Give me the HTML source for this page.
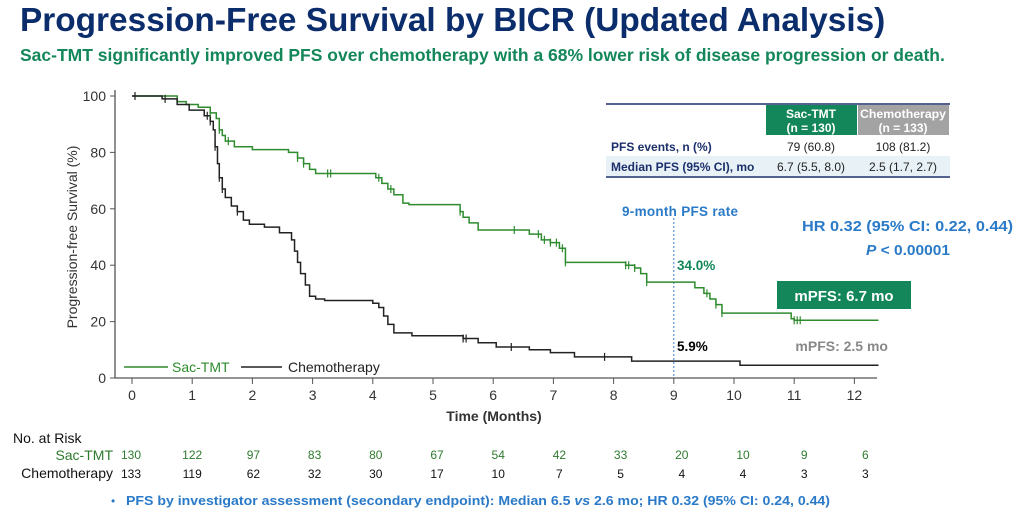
<!DOCTYPE html>
<html><head><meta charset="utf-8"><style>
body{margin:0;width:1031px;height:514px;background:#fff;overflow:hidden;font-family:"Liberation Sans",Arial,sans-serif;position:relative}
.t{position:absolute;white-space:nowrap}
</style></head><body>
<div class="t" style="left:20px;top:2px;font-size:33.4px;font-weight:bold;color:#0b2d6b">Progression-Free Survival by BICR (Updated Analysis)</div>
<div class="t" style="left:20px;top:45px;font-size:17.5px;font-weight:bold;color:#13875a">Sac-TMT significantly improved PFS over chemotherapy with a 68% lower risk of disease progression or death.</div>
<svg id="s" width="1031" height="514" style="position:absolute;left:0;top:0" font-family="Liberation Sans, Arial, sans-serif"></svg>
<script>
const X=t=>132+60.2*t, Y=v=>378-2.82*v;
const g=[[0,100],[0.75,98],[0.9,97],[1.1,96],[1.3,94],[1.4,92],[1.45,88],[1.5,86],[1.55,84],[1.7,82],[2.0,81],[2.6,80],[2.75,78],[2.85,76],[2.95,74],[3.05,72.5],[4.05,71],[4.15,69],[4.25,67],[4.35,65],[4.5,62],[4.6,61.5],[5.45,59],[5.5,57],[5.6,55],[5.75,52.5],[6.6,51],[6.8,49],[6.95,48],[7.1,46],[7.2,41],[8.2,40],[8.35,39],[8.45,37],[8.55,34],[9.35,32],[9.5,30],[9.6,28],[9.7,26],[9.8,23],[10.95,21],[11.0,20.5],[12.4,20.5]];
const c=[[0,100],[0.5,99],[0.75,97],[0.95,95],[1.2,93],[1.3,91],[1.35,88],[1.38,82],[1.42,76],[1.45,71],[1.5,67],[1.55,64],[1.65,61],[1.75,59],[1.85,56],[1.95,54.5],[2.2,53.5],[2.45,51.5],[2.65,49],[2.7,45],[2.75,41],[2.8,37],[2.88,33],[2.95,29],[3.05,28],[3.2,27.5],[4.0,26.5],[4.1,25],[4.18,22],[4.25,19],[4.35,16],[4.65,15],[5.5,14],[5.75,12.5],[6.05,11],[6.6,10],[6.95,9],[7.35,7.5],[8.3,6],[10.1,4.5],[12.4,4.5]];
function path(d){let s='M'+X(d[0][0])+' '+Y(d[0][1]);for(let i=1;i<d.length;i++){s+=' H'+X(d[i][0])+' V'+Y(d[i][1]);}return s;}
function cens(d,ts){let s='';for(const t of ts){let v=d[0][1];for(const p of d){if(p[0]<=t)v=p[1];}s+=`M${X(t)} ${Y(v)-4}v8`;}return s;}
let h='';
h+=`<line x1="115" y1="90" x2="115" y2="378" stroke="#555" stroke-width="1.3"/><line x1="115" y1="378" x2="877" y2="378" stroke="#555" stroke-width="1.3"/>`;
for(let v=0;v<=100;v+=20){h+=`<line x1="110" x2="115" y1="${Y(v)}" y2="${Y(v)}" stroke="#555"/><text x="106" y="${Y(v)+5}" font-size="14" text-anchor="end" fill="#333">${v}</text>`;}
for(let t=0;t<=12;t++){h+=`<line x1="${X(t)}" x2="${X(t)}" y1="378" y2="384" stroke="#555"/><text x="${X(t)}" y="400" font-size="14" text-anchor="middle" fill="#333">${t}</text>`;}
h+=`<text transform="translate(77,237) rotate(-90)" font-size="14" text-anchor="middle" fill="#333">Progression-free Survival (%)</text>`;
h+=`<text x="494" y="421" font-size="14" font-weight="bold" text-anchor="middle" fill="#333">Time (Months)</text>`;
h+=`<line x1="${X(9)}" x2="${X(9)}" y1="218" y2="378" stroke="#3a7fd0" stroke-dasharray="2,2"/>`;
h+=`<path d="${path(g)}" fill="none" stroke="#2e8b2e" stroke-width="1.5"/>`;
h+=`<path d="${path(c)}" fill="none" stroke="#222" stroke-width="1.5"/>`;
h+=`<path d="${cens(g,[1.3,1.45,1.6,2.75,2.85,3.25,3.3,4.1,4.3,5.45,6.35,6.75,6.85,6.95,7.05,7.15,7.2,8.2,8.25,8.35,8.55,9.55,9.7,9.8,11.0,11.05,11.1])}" stroke="#2e8b2e" stroke-width="1.2"/>`;
h+=`<path d="${cens(c,[0.05,0.55,1.25,1.3,1.38,1.45,1.5,1.75,5.5,5.55,6.3,7.85])}" stroke="#222" stroke-width="1.2"/>`;
h+=`<line x1="124" x2="168" y1="367" y2="367" stroke="#2e8b2e" stroke-width="1.5"/><text x="172" y="372" font-size="14" fill="#2e8b2e">Sac-TMT</text>`;
h+=`<line x1="241" x2="282" y1="367" y2="367" stroke="#222" stroke-width="1.5"/><text x="288" y="372" font-size="14" fill="#222">Chemotherapy</text>`;
h+=`<text x="680" y="216" font-size="13.5" font-weight="bold" text-anchor="middle" fill="#2a7ac8" textLength="116">9-month PFS rate</text>`;
h+=`<text x="677" y="270" font-size="13.5" font-weight="bold" fill="#13875a">34.0%</text>`;
h+=`<text x="677" y="351" font-size="13.5" font-weight="bold" fill="#000">5.9%</text>`;
h+=`<text x="802" y="231" font-size="15" font-weight="bold" fill="#2a7ac8" textLength="211" lengthAdjust="spacingAndGlyphs">HR 0.32 (95% CI: 0.22, 0.44)</text>`;
h+=`<text x="866" y="255" font-size="15" font-weight="bold" fill="#2a7ac8" textLength="84" lengthAdjust="spacingAndGlyphs"><tspan font-style="italic">P</tspan> &lt; 0.00001</text>`;
h+=`<rect x="777" y="281" width="134" height="28" fill="#13875a"/><text x="844" y="301" font-size="15" font-weight="bold" text-anchor="middle" fill="#fff">mPFS: 6.7 mo</text>`;
h+=`<text x="888" y="351" font-size="14" font-weight="bold" text-anchor="end" fill="#888">mPFS: 2.5 mo</text>`;
h+=`<line x1="606" x2="950" y1="104" y2="104" stroke="#1b2f6b" stroke-width="1.5"/>`;
h+=`<rect x="766" y="105" width="91" height="30" fill="#13875a"/><rect x="858" y="105" width="91" height="30" fill="#a3a3a3"/>`;
h+=`<text x="811" y="118" font-size="12" font-weight="bold" text-anchor="middle" fill="#fff">Sac-TMT</text><text x="811" y="132" font-size="12" font-weight="bold" text-anchor="middle" fill="#fff">(n = 130)</text>`;
h+=`<text x="903" y="118" font-size="12" font-weight="bold" text-anchor="middle" fill="#fff" textLength="86" lengthAdjust="spacingAndGlyphs">Chemotherapy</text><text x="903" y="132" font-size="12" font-weight="bold" text-anchor="middle" fill="#fff">(n = 133)</text>`;
h+=`<rect x="606" y="156" width="344" height="20" fill="#e8f2f6"/>`;
h+=`<text x="611" y="151" font-size="12" font-weight="bold" fill="#1b2f6b">PFS events, n (%)</text><text x="811" y="151" font-size="12" text-anchor="middle" fill="#222">79 (60.8)</text><text x="903" y="151" font-size="12" text-anchor="middle" fill="#222">108 (81.2)</text>`;
h+=`<text x="611" y="171" font-size="12" font-weight="bold" fill="#1b2f6b">Median PFS (95% CI), mo</text><text x="811" y="171" font-size="12" text-anchor="middle" fill="#222">6.7 (5.5, 8.0)</text><text x="903" y="171" font-size="12" text-anchor="middle" fill="#222">2.5 (1.7, 2.7)</text>`;
h+=`<line x1="606" x2="950" y1="177" y2="177" stroke="#1b2f6b" stroke-width="1.5"/>`;
h+=`<text x="13" y="443" font-size="14" fill="#111">No. at Risk</text>`;
h+=`<text x="113" y="460" font-size="14" text-anchor="end" fill="#2e7a2e">Sac-TMT</text><text x="113" y="478" font-size="14" text-anchor="end" fill="#111">Chemotherapy</text>`;
const a=[130,122,97,83,80,67,54,42,33,20,10,9,6],b=[133,119,62,32,30,17,10,7,5,4,4,3,3];
for(let i=0;i<13;i++){let x=131+61.2*i;h+=`<text x="${x}" y="459" font-size="12" text-anchor="middle" fill="#2e7a2e">${a[i]}</text><text x="${x}" y="478" font-size="12" text-anchor="middle" fill="#111">${b[i]}</text>`;}
h+=`<text x="111" y="505" font-size="12" fill="#2a7ac8">•</text><text x="126" y="505" font-size="13" font-weight="bold" fill="#2a7ac8" textLength="704" lengthAdjust="spacingAndGlyphs">PFS by investigator assessment (secondary endpoint): Median 6.5 <tspan font-style="italic">vs</tspan> 2.6 mo; HR 0.32 (95% CI: 0.24, 0.44)</text>`;
document.getElementById('s').innerHTML=h;
</script>
</body></html>
